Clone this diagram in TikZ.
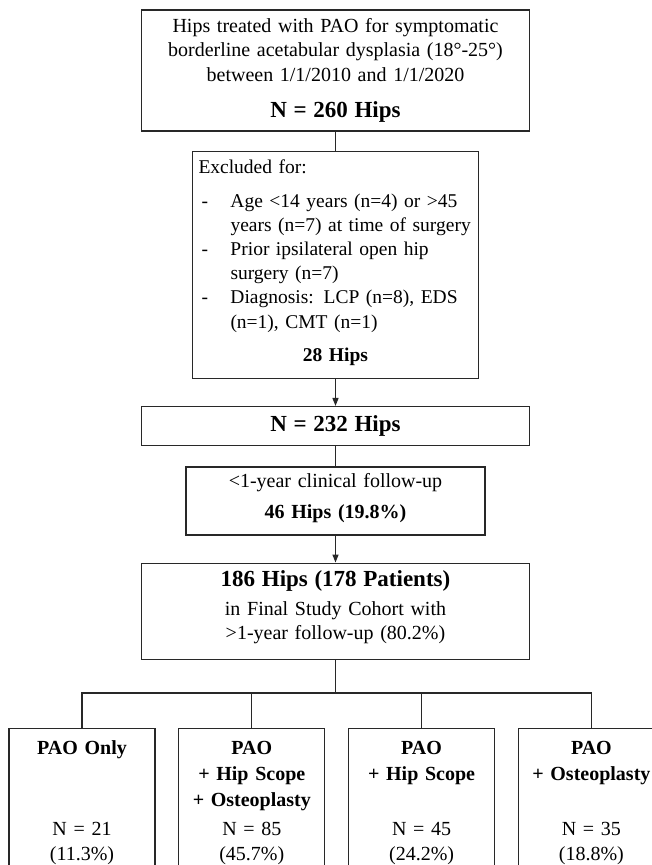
\documentclass[tikz,border=0pt]{standalone}
\usepackage{fontspec}
\setmainfont{Liberation Serif}
\usetikzlibrary{arrows.meta, positioning}
\definecolor{boxline}{RGB}{40,40,40}
\newcommand{\bodyfont}{\fontsize{20}{24.5}\selectfont}
\newcommand{\listfont}{\fontsize{19.5}{24.2}\selectfont}
\newcommand{\bigbold}{\fontsize{23}{27}\selectfont\bfseries}
\tikzset{
  box/.style={rectangle, draw=boxline, line width=1.3pt, inner sep=0pt,
    align=center, font=\bodyfont},
  widebox/.style={box, text width=388pt},
  groupbox/.style={box, text width=146pt, anchor=north, inner ysep=8.5pt},
  arrow/.style={-{Triangle[length=8pt,width=6pt]}, line width=1.3pt, color=boxline},
  line/.style={line width=1.3pt, color=boxline}
}

\begin{document}
\begin{tikzpicture}[x=1pt, y=1pt, node distance=22.5pt]
  \useasboundingbox (0,0) rectangle (652,-865);
  \clip (0,0) rectangle (652,-865);

  % Inclusion
  \node[widebox, minimum height=121pt] (top) at (335.5,-70.5)
    {Hips treated with PAO for symptomatic\\
     borderline acetabular dysplasia (18°-25°)\\
     between 1/1/2010 and 1/1/2020\\[12pt]
     {\bigbold N = 260 Hips}};

  % Exclusions
  \node[box, font=\listfont, text width=282pt, inner xsep=2pt, minimum height=227pt,
    align=left, below=19pt of top] (excl)
    {\hspace*{4pt}Excluded for:\\[9pt]
     \hspace*{7pt}\makebox[29pt][l]{-}Age <14 years (n=4) or >45\\
     \hspace*{36pt}years (n=7) at time of surgery\\
     \hspace*{7pt}\makebox[29pt][l]{-}Prior ipsilateral open hip\\
     \hspace*{36pt}surgery (n=7)\\
     \hspace*{7pt}\makebox[29pt][l]{-}Diagnosis: LCP (n=8), EDS\\
     \hspace*{36pt}(n=1), CMT (n=1)\\[9pt]
     \makebox[282pt]{\textbf{28 Hips}}\rule[-8pt]{0pt}{8pt}};

  \node[widebox, minimum height=39pt, below=27pt of excl] (n232) {\bigbold N = 232 Hips};

  % Lost to follow-up
  \node[box, text width=299pt, minimum height=68pt, below=20pt of n232] (lost)
    {<1-year clinical follow-up\\[6.5pt]
     \textbf{46 Hips (19.8\%)}\rule[-10pt]{0pt}{10pt}};

  % Final cohort
  \node[widebox, minimum height=96pt, below=27pt of lost] (cohort)
    {{\bigbold 186 Hips (178 Patients)}\\[4pt]
     in Final Study Cohort with\\
     >1-year follow-up (80.2\%)\rule[-12pt]{0pt}{12pt}};

  \coordinate[below=33pt of cohort] (split);

  % Treatment groups
  \node[groupbox] (g1) at (82,-728)
    {\textbf{PAO Only}\strut\\[1.5pt]\strut\\[1.5pt]\strut\\[5pt]N = 21\strut\\(11.3\%)\strut};
  \node[groupbox, right=of g1] (g2)
    {\textbf{PAO}\strut\\[1.5pt]\textbf{+ Hip Scope}\strut\\[1.5pt]\textbf{+ Osteoplasty}\strut\\[5pt]N = 85\strut\\(45.7\%)\strut};
  \node[groupbox, right=of g2] (g3)
    {\textbf{PAO}\strut\\[1.5pt]\textbf{+ Hip Scope}\strut\\[1.5pt]\strut\\[5pt]N = 45\strut\\(24.2\%)\strut};
  \node[groupbox, right=of g3] (g4)
    {\textbf{PAO}\strut\\[1.5pt]\textbf{+ Osteoplasty}\strut\\[1.5pt]\strut\\[5pt]N = 35\strut\\(18.8\%)\strut};

  % Connectors
  \draw[line] (top) -- (excl);
  \draw[arrow] (excl) -- (n232);
  \draw[line] (n232) -- (lost);
  \draw[arrow] (lost) -- (cohort);
  \draw[line] (cohort) -- (split);
  \draw[line] (g1) |- (split) -| (g4);
  \draw[line] (split -| g2) -- (g2);
  \draw[line] (split -| g3) -- (g3);
\end{tikzpicture}
\end{document}
